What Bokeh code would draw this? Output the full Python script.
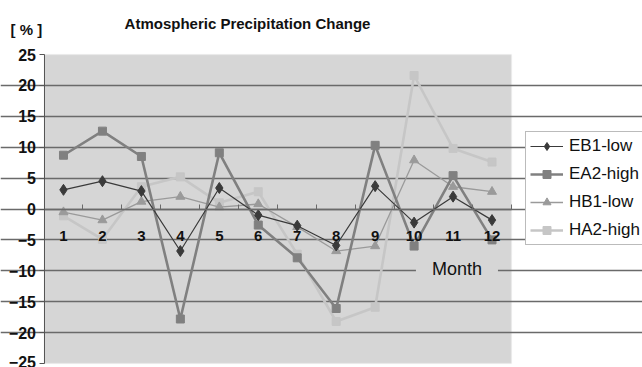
from bokeh.plotting import figure
from bokeh.models import FixedTicker, Label, Legend, LegendItem, Range1d, BoxAnnotation
from bokeh.embed import file_html
from bokeh.resources import INLINE

months = [1, 2, 3, 4, 5, 6, 7, 8, 9, 10, 11, 12]
eb1_low = [3.1, 4.5, 2.9, -6.8, 3.4, -1.0, -2.7, -5.9, 3.7, -2.2, 2.0, -1.8]
ea2_high = [8.7, 12.6, 8.5, -17.8, 9.1, -2.6, -7.9, -16.1, 10.3, -6.0, 5.4, -5.0]
hb1_low = [-0.5, -1.8, 1.2, 2.0, 0.3, 0.8, -2.9, -6.8, -6.0, 7.9, 3.6, 2.8]
ha2_high = [-1.1, -4.9, 3.6, 5.2, 1.0, 2.8, -7.3, -18.2, -15.9, 21.6, 9.8, 7.6]
y_ticks = [-25, -20, -15, -10, -5, 0, 5, 10, 15, 20, 25]
grid_ticks = [-20, -15, -10, -5, 0, 5, 10, 15, 20]

W, H = 642, 367
FONT = "Liberation Sans"
BG = "#d6d6d6"

# pixel layout of the plot area inside the canvas
PL, PR, PT, PB = 43.5, 511.0, 54.0, 363.0
X0, X1 = 0.5, 12.5
Y0, Y1 = -25.0, 25.0
sx = (PR - PL) / (X1 - X0)
sy = (PB - PT) / (Y1 - Y0)
x_range = Range1d(X0 - PL / sx, X1 + (W - PR) / sx)
y_range = Range1d(Y0 - (H - PB) / sy, Y1 + PT / sy)

p = figure(width=W, height=H, output_backend="svg", toolbar_location=None,
           x_range=x_range, y_range=y_range, min_border=0)
p.background_fill_color = "white"
p.border_fill_color = "white"
p.outline_line_color = None

area = BoxAnnotation(left=X0, right=X1, bottom=Y0, top=Y1, fill_color=BG, fill_alpha=1,
                     line_color="#ececec", line_width=1.5, level="image")
p.add_layout(area)

# grid
p.xgrid.visible = False
p.ygrid.ticker = FixedTicker(ticks=grid_ticks)
p.ygrid.bounds = (X0, X1)
p.ygrid.grid_line_color = "#6a6a6a"
p.ygrid.grid_line_width = 1.3

# y axis
p.yaxis.fixed_location = X0
p.yaxis.bounds = (Y0, Y1)
p.yaxis.ticker = FixedTicker(ticks=y_ticks)
p.yaxis.major_label_text_font = FONT
p.yaxis.major_label_text_font_style = "bold"
p.yaxis.major_label_text_font_size = "16px"
p.yaxis.major_label_text_color = "#111111"
p.yaxis.axis_line_color = "#555555"
p.yaxis.major_tick_line_color = "#555555"
p.yaxis.major_tick_out = 5
p.yaxis.major_tick_in = 0
p.yaxis.minor_tick_line_color = None
p.yaxis.major_label_standoff = 3

# x axis crossing at zero
p.xaxis.fixed_location = 0
p.xaxis.bounds = (X0, X1)
p.xaxis.ticker = FixedTicker(ticks=months, minor_ticks=[m + 0.5 for m in [0] + months])
p.xaxis.major_label_text_font = FONT
p.xaxis.major_label_text_font_style = "bold"
p.xaxis.major_label_text_font_size = "15px"
p.xaxis.major_label_text_color = "#111111"
p.xaxis.axis_line_color = "#6a6a6a"
p.xaxis.axis_line_width = 1.3
p.xaxis.major_tick_line_color = None
p.xaxis.minor_tick_line_color = "#6a6a6a"
p.xaxis.minor_tick_in = 5
p.xaxis.minor_tick_out = 0
p.xaxis.major_label_standoff = 16

series = [
    ("EB1-low", eb1_low, "#3a3a3a", 1.2, "diamond", 11),
    ("EA2-high", ea2_high, "#808080", 2.6, "square", 8),
    ("HB1-low", hb1_low, "#9a9a9a", 1.3, "triangle", 9),
    ("HA2-high", ha2_high, "#c6c6c6", 2.6, "square", 8),
]
items = []
for name, vals, col, lw, mk, sz in reversed(series):
    r1 = p.line(months, vals, line_color=col, line_width=lw)
    r2 = p.scatter(months, vals, marker=mk, size=sz, fill_color=col, line_color=col)
    items.insert(0, LegendItem(label=name, renderers=[r1, r2]))

legend = Legend(items=items, location=(525, H - 245))
legend.label_text_font = FONT
legend.label_text_font_size = "17px"
legend.label_text_color = "#111111"
legend.glyph_width = 33
legend.glyph_height = 20
legend.label_height = 20
legend.spacing = 8
legend.label_standoff = 6
legend.padding = 4
legend.margin = 0
legend.border_line_color = "#777777"
legend.border_line_width = 1
legend.background_fill_color = "white"
legend.background_fill_alpha = 1
p.add_layout(legend, "center")

month_label = Label(x=11.1, y=-10, y_offset=2, text="Month", text_font=FONT, text_font_size="18px",
                    text_color="#111111", text_align="center", text_baseline="middle",
                    background_fill_color=BG, padding=(16, 4))
p.add_layout(month_label)

title = Label(x=247, y=H - 23, x_units="screen", y_units="screen", text="Atmospheric Precipitation Change",
              text_font=FONT, text_font_style="bold", text_font_size="15px", text_color="#111111",
              text_align="center", text_baseline="middle")
p.add_layout(title)
unit = Label(x=10, y=H - 29, x_units="screen", y_units="screen", text="[ % ]",
             text_font=FONT, text_font_style="bold", text_font_size="15px", text_color="#111111",
             text_align="left", text_baseline="middle")
p.add_layout(unit)

open("out.html", "w").write(file_html(p, INLINE))
